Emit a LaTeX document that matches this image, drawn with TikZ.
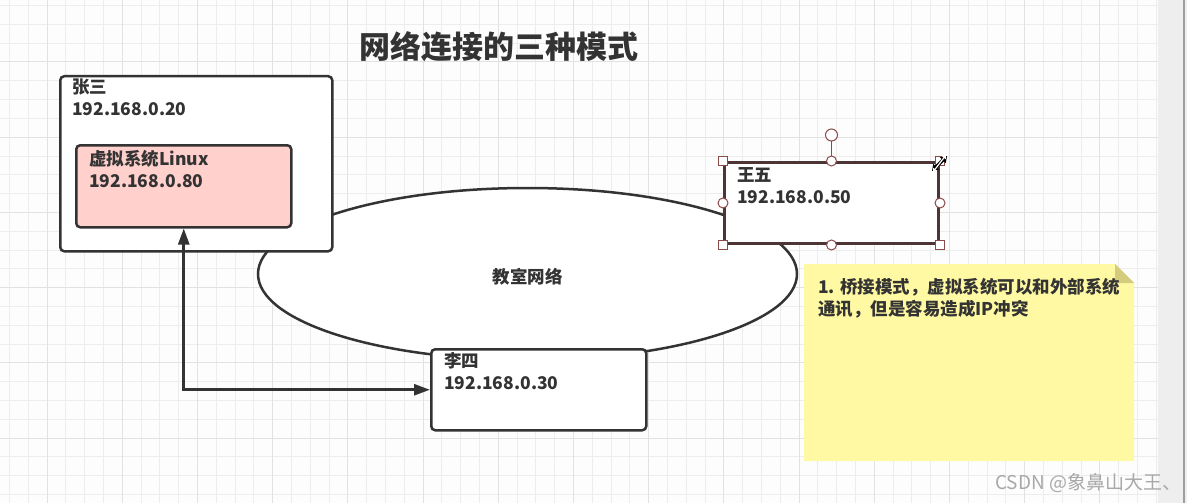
\documentclass[tikz,border=0pt]{standalone}
\usepackage{fontspec}
\setmainfont{Noto Sans CJK SC}
\usetikzlibrary{arrows.meta,shapes.geometric}
\definecolor{ink}{HTML}{333333}
\definecolor{bgc}{HTML}{FDFDFD}
\definecolor{gridminor}{HTML}{EDEDED}
\definecolor{gridmajor}{HTML}{E2E2E2}
\definecolor{pinkfill}{HTML}{FFD0CC}
\definecolor{selc}{HTML}{4D3535}
\definecolor{handlec}{HTML}{8B4A4A}
\definecolor{notefill}{HTML}{FFF9A3}
\definecolor{foldfill}{HTML}{D4CC7C}
\definecolor{wmark}{HTML}{A8A8A8}
\definecolor{barc}{HTML}{EEEEEE}
\definecolor{bardark}{HTML}{9E9E9E}
\begin{document}
\begin{tikzpicture}[x=1pt,y=-1pt,
  box/.style={draw=ink, line width=2.5pt, rounded corners=4pt, fill=white, inner sep=0pt, anchor=north west},
  txt/.style={inner sep=0pt, anchor=north west, align=left, text=ink, font=\fontsize{17.5}{22}\selectfont\bfseries},
  conn/.style={draw=ink, line width=2.6pt, {Triangle[length=16pt,width=11pt]}-{Triangle[length=16pt,width=11pt]}},
  hsq/.style={draw=handlec, fill=white, line width=1pt, minimum size=9pt, inner sep=0pt},
  hci/.style={draw=handlec, fill=white, line width=1pt, circle, minimum size=10pt, inner sep=0pt}
]
\useasboundingbox (0,0) rectangle (1187,503);
\fill[bgc] (0,0) rectangle (1187,503);
% grid
\foreach \i in {0,...,61} \draw[gridminor, line width=1pt] ({9.4+18.8*\i},0) -- ({9.4+18.8*\i},503);
\foreach \j in {0,...,26} \draw[gridminor, line width=1pt] (0,{5.6+18.8*\j}) -- (1158,{5.6+18.8*\j});
\foreach \i in {0,...,14} \draw[gridmajor, line width=1pt] ({47+75.2*\i},0) -- ({47+75.2*\i},503);
\foreach \j in {0,...,5} \draw[gridmajor, line width=1pt] (0,{62+75.2*\j}) -- (1158,{62+75.2*\j});
% scrollbar
\fill[barc] (1158,0) rectangle (1187,503);
\fill[bardark] (1182.5,0) rectangle (1185,503);

% title
\node[inner sep=0pt, text=ink, font=\fontsize{31}{31}\selectfont\bfseries] (title) at (499,47) {网络连接的三种模式};

% network ellipse
\node[draw=ink, line width=2.5pt, ellipse, fill=white, minimum width=539pt, minimum height=172pt, inner sep=0pt] (net) at (527.5,274) {};
\node[inner sep=0pt, text=ink, font=\fontsize{17.5}{22}\selectfont\bfseries] (netlabel) at ([yshift=-3pt]net.center) {教室网络};

% Zhang San
\node[box, minimum width=272pt, minimum height=175pt] (zs) at (59,75) {};
\node[txt] (zstext) at ([xshift=13pt,yshift=-4pt]zs.north west) {张三\\192.168.0.20};
\node[box, fill=pinkfill, minimum width=215pt, minimum height=82pt] (vm) at (75,144) {};
\node[txt] (vmtext) at ([xshift=14pt,yshift=-6pt]vm.north west) {虚拟系统Linux\\192.168.0.80};

% Wang Wu (selected)
\node[draw=selc, line width=3pt, fill=white, inner sep=0pt, anchor=north west, minimum width=214pt, minimum height=81pt] (ww) at (723,161) {};
\node[txt] (wwtext) at ([xshift=14pt,yshift=-6pt]ww.north west) {王五\\192.168.0.50};
\coordinate (rot) at ([yshift=26pt]ww.north);
\draw[handlec, line width=1pt] (ww.north) -- (rot);
\node[hci, minimum size=12pt] (hrot) at (rot) {};
\node[hsq] (h1) at (ww.north west) {};
\node[hsq] (h2) at (ww.north east) {};
\node[hsq] (h3) at (ww.south west) {};
\node[hsq] (h4) at (ww.south east) {};
\node[hci] (h5) at (ww.north) {};
\node[hci] (h6) at (ww.south) {};
\node[hci] (h7) at (ww.west) {};
\node[hci] (h8) at (ww.east) {};
% resize cursor
\coordinate (cura) at (932,171);
\coordinate (curb) at (947,156);
\draw[black, line width=3.2pt, {Triangle[length=6pt,width=8pt]}-{Triangle[length=6pt,width=8pt]}] (cura) -- (curb);
\draw[white, line width=1.2pt, {Triangle[length=3.5pt,width=4.5pt]}-{Triangle[length=3.5pt,width=4.5pt]}] ([shift={(1pt,-1pt)}]cura) -- ([shift={(-1pt,1pt)}]curb);

% Li Si
\node[box, minimum width=215pt, minimum height=81pt] (ls) at (430,348) {};
\node[txt] (lstext) at ([xshift=14pt,yshift=-4pt]ls.north west) {李四\\192.168.0.30};

% connector
\draw[conn] (vm.south) |- (ls.west);

% note
\fill[notefill] (804,264) -- (1115,264) -- (1134,283) -- (1134,461) -- (804,461) -- cycle;
\fill[foldfill] (1115,264) -- (1134,283) -- (1115,283) -- cycle;
\node[txt] (notetext) at (818,278) {1. 桥接模式，虚拟系统可以和外部系统\\通讯，但是容易造成IP冲突};

% watermark
\node[inner sep=0pt, anchor=west, text=wmark, font=\fontsize{19}{19}\selectfont] (wm) at (995,483) {CSDN @象鼻山大王、};
\end{tikzpicture}
\end{document}
